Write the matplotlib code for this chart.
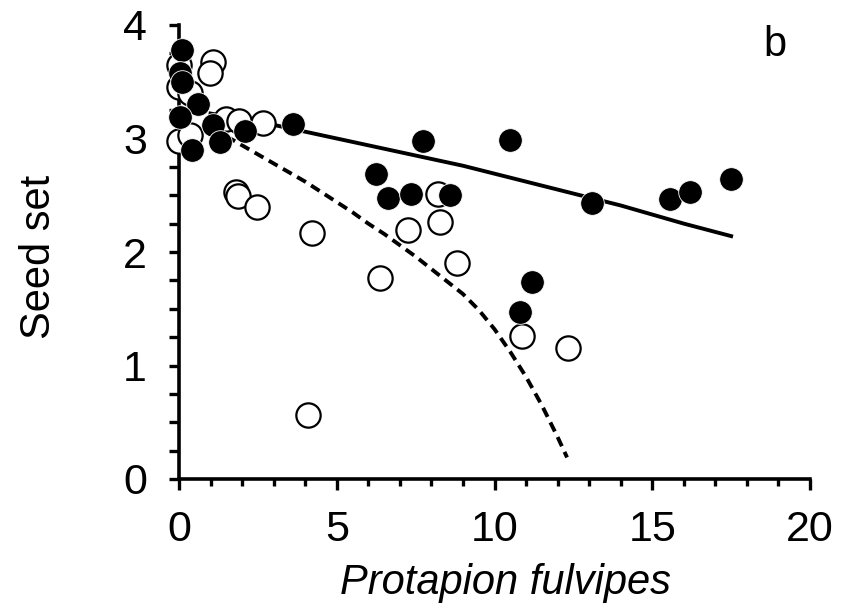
import numpy as np
import matplotlib
matplotlib.use("Agg")
import matplotlib.pyplot as plt
from matplotlib.ticker import MultipleLocator

plt.rcParams['font.family'] = ['Liberation Sans', 'DejaVu Sans']

# filled circles
filled_x = [0.1, 0.03, 0.1, 0.6, 0.03, 1.08, 1.3, 0.4, 2.1, 3.6, 7.73, 10.5,
            6.24, 6.62, 7.35, 8.6, 11.2, 10.8, 13.1, 15.56, 16.2, 17.5]
filled_y = [3.78, 3.58, 3.50, 3.30, 3.19, 3.12, 2.97, 2.90, 3.07, 3.13, 2.98, 2.99,
            2.69, 2.48, 2.51, 2.50, 1.74, 1.47, 2.43, 2.47, 2.53, 2.64]

# open circles
open_x = [0.0, 0.0, 0.35, 1.08, 0.98, 0.0, 0.35, 1.5, 1.9, 2.66, 1.80, 1.88,
          2.47, 4.2, 4.09, 6.37, 7.26, 8.2, 8.27, 8.8, 10.87, 12.33]
open_y = [3.65, 3.45, 3.40, 3.67, 3.58, 2.98, 3.03, 3.17, 3.15, 3.14, 2.53, 2.49,
          2.40, 2.17, 0.56, 1.77, 2.19, 2.51, 2.26, 1.90, 1.26, 1.15]

# fitted curves
solid_x = [1, 2, 3, 4, 5, 6, 7, 8, 9, 10, 11, 12, 13, 14, 15, 16, 17.5]
solid_y = [3.22, 3.17, 3.12, 3.06, 3.00, 2.94, 2.88, 2.82, 2.76, 2.69, 2.62,
           2.55, 2.48, 2.41, 2.33, 2.25, 2.14]
dash_x = [1.5, 2.0, 2.5, 3.0, 3.5, 4.0, 4.5, 5.0, 5.5, 6.0, 6.5, 7.0, 7.5, 8.0,
          8.5, 9.0, 9.5, 10.0, 10.5, 11.0, 11.5, 12.0, 12.3]
dash_y = [3.02, 2.94, 2.86, 2.78, 2.70, 2.62, 2.53, 2.44, 2.35, 2.25, 2.16, 2.06,
          1.96, 1.85, 1.74, 1.63, 1.49, 1.32, 1.12, 0.90, 0.65, 0.37, 0.19]

fig = plt.figure(figsize=(8.55, 6.14), dpi=100)
ax = fig.add_axes([179/855, 1-479/614, 631/855, 454/614])

ax.plot(solid_x, solid_y, color='black', lw=2.8, zorder=2)
ax.plot(dash_x, dash_y, color='black', lw=2.8, dashes=(2.6, 1.6), zorder=2)

ax.plot(open_x, open_y, 'o', ms=17.5, mfc='white', mec='black', mew=1.6,
        clip_on=False, zorder=3)
ax.plot(filled_x, filled_y, 'o', ms=17, mfc='black', mec='white', mew=0.6,
        clip_on=False, zorder=4)

ax.set_xlim(0, 20)
ax.set_ylim(0, 4)
ax.xaxis.set_major_locator(MultipleLocator(5))
ax.xaxis.set_minor_locator(MultipleLocator(1))
ax.yaxis.set_major_locator(MultipleLocator(1))
ax.yaxis.set_minor_locator(MultipleLocator(0.25))

for s in ['top', 'right']:
    ax.spines[s].set_visible(False)
for s in ['left', 'bottom']:
    ax.spines[s].set_linewidth(2.6)

ax.tick_params(axis='x', which='major', direction='out', length=8, width=2.4,
               labelsize=31, pad=14)
ax.tick_params(axis='x', which='minor', direction='out', length=5, width=2.4)
ax.tick_params(axis='y', which='both', direction='out', length=7, width=2.4,
               labelsize=31, pad=16)

ax.set_xlabel('Protapion fulvipes', fontsize=30, style='italic')
ax.set_ylabel('Seed set', fontsize=30)
ax.xaxis.set_label_coords(0.517, -0.185)
ax.yaxis.set_label_coords(-0.19, 0.49)

ax.text(18.9, 3.82, 'b', fontsize=30, ha='center', va='center')

fig.savefig('out.png', dpi=100)
